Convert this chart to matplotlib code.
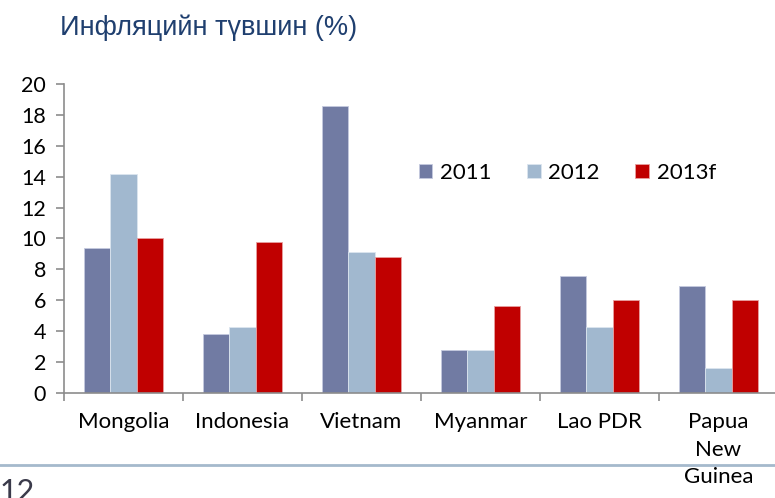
import matplotlib.pyplot as plt
from matplotlib.lines import Line2D
import numpy as np

countries = ["Mongolia", "Indonesia", "Vietnam", "Myanmar", "Lao PDR", "Papua\nNew\nGuinea"]
y2011 = [9.4, 3.8, 18.6, 2.8, 7.6, 6.9]
y2012 = [14.2, 4.3, 9.1, 2.8, 4.3, 1.6]
y2013f = [10.0, 9.8, 8.8, 5.6, 6.0, 6.0]
series_names = ["2011", "2012", "2013f"]

plt.rcParams['font.family'] = ['Lato', 'DejaVu Sans']

fig = plt.figure(figsize=(7.75, 4.98), dpi=100)
ax = fig.add_axes([64/775, 105/498, 714/775, 309/498])

x = np.arange(len(countries))
w = 0.22
ax.bar(x - w, y2011, w, color='#717BA3', edgecolor='#C5CADF', linewidth=0.6, label=series_names[0])
ax.bar(x, y2012, w, color='#A1B8CF', edgecolor='#DCE5EF', linewidth=0.6, label=series_names[1])
ax.bar(x + w, y2013f, w, color='#C00000', edgecolor='#E8A0A0', linewidth=0.6, label=series_names[2])

ax.set_xlim(-0.5, len(countries) - 0.5)
ax.set_ylim(0, 20)
ax.set_yticks(range(0, 21, 2))
ax.set_xticks(x)
ax.set_xticklabels(countries, fontsize=16, linespacing=1.45, va='top')
ax.set_xticks(np.arange(-0.5, len(countries)), minor=True)
ax.tick_params(axis='x', which='major', length=0, pad=14)
ax.tick_params(axis='x', which='minor', length=6, color='#8C8C8C', width=1.2, direction='out')
ax.tick_params(axis='y', length=6, color='#8C8C8C', width=1.2, labelsize=15.5, pad=7)

for s in ['top', 'right']:
    ax.spines[s].set_visible(False)
for s in ['left', 'bottom']:
    ax.spines[s].set_color('#8C8C8C')
    ax.spines[s].set_linewidth(1.2)

ax.legend(loc='center left', bbox_to_anchor=(408/775, 1 - 173/498), bbox_transform=fig.transFigure,
          ncol=3, frameon=False, fontsize=16, handlelength=0.6, handleheight=0.6,
          handletextpad=0.35, borderpad=0, columnspacing=1.6)

fig.text(60/775, 1 - 28/498, "Инфляцийн түвшин (%)", fontsize=19.5, color='#1F3F6F',
         va='center', ha='left', family=['Liberation Sans', 'DejaVu Sans'])

fig.add_artist(Line2D([0, 1], [1 - 465/498] * 2, transform=fig.transFigure, color='#A5B9CC', lw=2))
fig.text(0.0, 1 - 478/498, "12", fontsize=22, color='#3A3A4A', va='top', ha='left')

fig.savefig('out.png', dpi=100)
